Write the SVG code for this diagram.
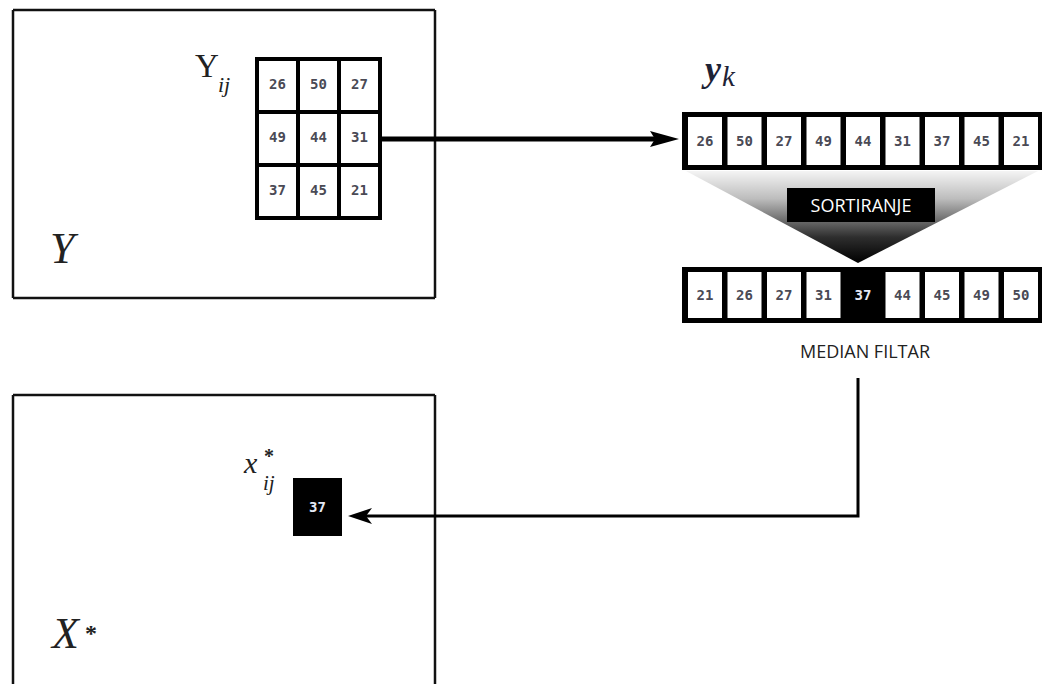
<svg xmlns="http://www.w3.org/2000/svg" width="1042" height="684" viewBox="0 0 1042 684">
<defs>
<linearGradient id="funnel" x1="0" y1="0" x2="0" y2="1">
<stop offset="0" stop-color="#f4f4f4"/>
<stop offset="0.3" stop-color="#bdbdbd"/>
<stop offset="0.72" stop-color="#2e2e2e"/>
<stop offset="1" stop-color="#000"/>
</linearGradient>
</defs>
<style>
.frame{fill:none;stroke:#111;stroke-width:2.5}
.cell{fill:#fff}
.num{font-family:"DejaVu Sans Mono","Liberation Mono",monospace;font-weight:bold;font-size:14px;fill:#4a4a55;text-anchor:middle;dominant-baseline:central}
.inv{fill:#e4e8f4}
.math{font-family:"Liberation Serif","DejaVu Serif",serif;fill:#222}
.lbl{font-family:"Open Sans","Noto Sans",sans-serif;font-size:18px;text-anchor:middle}
.conn{fill:none;stroke:#000}
</style>
<rect width="1042" height="684" fill="#fff"/>

<g id="image-Y">
<path class="frame" d="M13 10 H435 M13 10 V298 M435 10 V298 M13 298 H435"/>
<text class="math" x="50" y="263" font-size="44" font-style="italic">Y</text>
</g>

<g id="window-Yij">
<rect x="255" y="57" width="127" height="163" fill="#000"/>
<rect class="cell" x="259" y="61" width="37" height="49"/>
<rect class="cell" x="300" y="61" width="37" height="49"/>
<rect class="cell" x="341" y="61" width="37" height="49"/>
<rect class="cell" x="259" y="114" width="37" height="49"/>
<rect class="cell" x="300" y="114" width="37" height="49"/>
<rect class="cell" x="341" y="114" width="37" height="49"/>
<rect class="cell" x="259" y="167" width="37" height="49"/>
<rect class="cell" x="300" y="167" width="37" height="49"/>
<rect class="cell" x="341" y="167" width="37" height="49"/>
<text class="num" x="277.5" y="84">26</text>
<text class="num" x="318.5" y="84">50</text>
<text class="num" x="359.5" y="84">27</text>
<text class="num" x="277.5" y="137">49</text>
<text class="num" x="318.5" y="137">44</text>
<text class="num" x="359.5" y="137">31</text>
<text class="num" x="277.5" y="190">37</text>
<text class="num" x="318.5" y="190">45</text>
<text class="num" x="359.5" y="190">21</text>
<text class="math" x="195" y="77" font-size="33">Y</text>
<text class="math" x="218" y="92" font-size="22" font-style="italic">ij</text>
</g>

<g id="vector-yk">
<rect x="682" y="112" width="360" height="58" fill="#000"/>
<rect class="cell" x="688" y="117" width="34" height="48"/>
<rect class="cell" x="727.5" y="117" width="34" height="48"/>
<rect class="cell" x="767" y="117" width="34" height="48"/>
<rect class="cell" x="806.5" y="117" width="34" height="48"/>
<rect class="cell" x="846" y="117" width="34" height="48"/>
<rect class="cell" x="885.5" y="117" width="34" height="48"/>
<rect class="cell" x="925" y="117" width="34" height="48"/>
<rect class="cell" x="964.5" y="117" width="34" height="48"/>
<rect class="cell" x="1004" y="117" width="34" height="48"/>
<text class="num" x="705" y="141">26</text>
<text class="num" x="744.5" y="141">50</text>
<text class="num" x="784" y="141">27</text>
<text class="num" x="823.5" y="141">49</text>
<text class="num" x="863" y="141">44</text>
<text class="num" x="902.5" y="141">31</text>
<text class="num" x="942" y="141">37</text>
<text class="num" x="981.5" y="141">45</text>
<text class="num" x="1021" y="141">21</text>
<text class="math" x="705" y="81" font-size="36" font-style="italic" font-weight="bold" style="fill:#1e2235">y</text>
<text class="math" x="722" y="86" font-size="29" font-style="italic" style="fill:#1e2235">k</text>
</g>

<g id="sort">
<polygon points="686,171 1038,171 858,263" fill="url(#funnel)"/>
<rect x="787" y="188" width="148" height="34" fill="#000"/>
<text class="lbl" x="861" y="212" fill="#fff">SORTIRANJE</text>
</g>

<g id="vector-sorted">
<rect x="682" y="267" width="360" height="56" fill="#000"/>
<rect class="cell" x="688" y="272" width="34" height="46"/>
<rect class="cell" x="727.5" y="272" width="34" height="46"/>
<rect class="cell" x="767" y="272" width="34" height="46"/>
<rect class="cell" x="806.5" y="272" width="34" height="46"/>
<rect class="cell" x="885.5" y="272" width="34" height="46"/>
<rect class="cell" x="925" y="272" width="34" height="46"/>
<rect class="cell" x="964.5" y="272" width="34" height="46"/>
<rect class="cell" x="1004" y="272" width="34" height="46"/>
<text class="num" x="705" y="295">21</text>
<text class="num" x="744.5" y="295">26</text>
<text class="num" x="784" y="295">27</text>
<text class="num" x="823.5" y="295">31</text>
<text class="num inv" x="863" y="295">37</text>
<text class="num" x="902.5" y="295">44</text>
<text class="num" x="942" y="295">45</text>
<text class="num" x="981.5" y="295">49</text>
<text class="num" x="1021" y="295">50</text>
<text class="lbl" x="865" y="358" fill="#222">MEDIAN FILTAR</text>
</g>

<g id="image-X">
<path class="frame" d="M13 395 H435 M13 395 V684 M435 395 V684"/>
<text class="math" x="52" y="648" font-size="44" font-style="italic">X</text>
<text class="math" x="85" y="641" font-size="24" font-weight="bold">*</text>
</g>

<g id="pixel-x">
<rect x="293" y="478" width="49" height="58" fill="#000"/>
<text class="num inv" x="317.5" y="507">37</text>
<text class="math" x="244" y="473" font-size="30" font-style="italic">x</text>
<text class="math" x="264" y="463" font-size="20" font-weight="bold">*</text>
<text class="math" x="263" y="490" font-size="21" font-style="italic">ij</text>
</g>

<g id="connectors">
<path class="conn" d="M382 139 H655" stroke-width="5"/>
<polygon points="650,131 679,139 650,147 655,139" fill="#000"/>
<path class="conn" d="M858 378 V516 H365" stroke-width="3"/>
<polygon points="348,516 372,508 366,516 372,524" fill="#000"/>
</g>
</svg>
